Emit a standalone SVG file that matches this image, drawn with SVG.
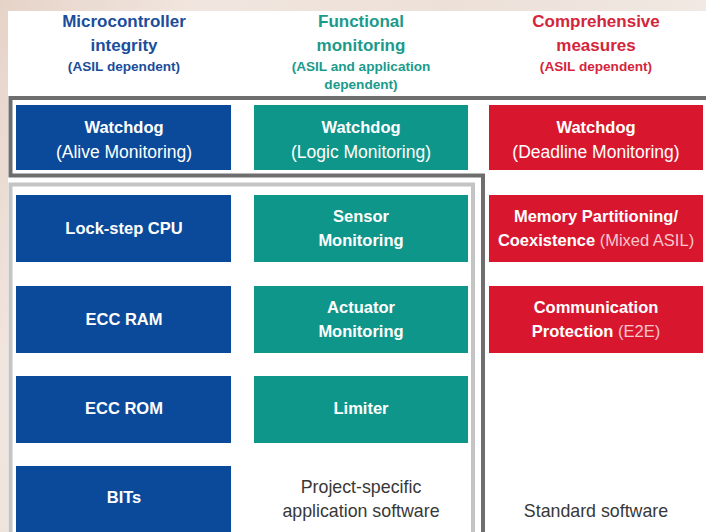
<svg xmlns="http://www.w3.org/2000/svg" width="706" height="532" viewBox="0 0 706 532">
  <defs>
    <linearGradient id="marble" x1="0" y1="0" x2="1" y2="0.4">
      <stop offset="0" stop-color="#e6d3c8"/>
      <stop offset="0.25" stop-color="#f1e6df"/>
      <stop offset="0.55" stop-color="#ece0d8"/>
      <stop offset="1" stop-color="#f3ece7"/>
    </linearGradient>
    <style>
      .b { font-family: "Liberation Sans", Arial, sans-serif; font-weight: bold; font-size: 16.5px; fill: #ffffff; text-anchor: middle; }
      .r { font-family: "Liberation Sans", Arial, sans-serif; font-size: 17.5px; fill: #ffffff; text-anchor: middle; }
      .h { font-family: "Liberation Sans", Arial, sans-serif; font-weight: bold; font-size: 17px; text-anchor: middle; }
      .hs { font-family: "Liberation Sans", Arial, sans-serif; font-weight: bold; font-size: 13.6px; text-anchor: middle; }
      .sw { font-family: "Liberation Sans", Arial, sans-serif; font-size: 17.8px; fill: #383838; text-anchor: middle; }
      .blue { fill: #0b4a9a; }
      .teal { fill: #0f968a; }
      .red { fill: #d8172f; }
      .tint { fill: #f7c6cc; font-weight: normal; }
      .dark { fill: none; stroke: #6e6e6e; stroke-width: 4; }
      .light { fill: none; stroke: #c4c4c4; stroke-width: 4; }
    </style>
  </defs>

  <!-- backdrop and white sheet -->
  <rect x="0" y="0" width="706" height="532" fill="url(#marble)"/>
  <rect x="8" y="11" width="698" height="521" fill="#ffffff"/>

  <!-- column headings -->
  <g id="head-mcu">
    <text class="h" x="124" y="27" fill="#1b4d9b">Microcontroller</text>
    <text class="h" x="124" y="51" fill="#1b4d9b">integrity</text>
    <text class="hs" x="124" y="71" fill="#1b4d9b">(ASIL dependent)</text>
  </g>
  <g id="head-func">
    <text class="h" x="361" y="27" fill="#1a9a8b">Functional</text>
    <text class="h" x="361" y="51" fill="#1a9a8b">monitoring</text>
    <text class="hs" x="361" y="71" fill="#1a9a8b">(ASIL and application</text>
    <text class="hs" x="361" y="89" fill="#1a9a8b">dependent)</text>
  </g>
  <g id="head-comp">
    <text class="h" x="596" y="27" fill="#d4253b">Comprehensive</text>
    <text class="h" x="596" y="51" fill="#d4253b">measures</text>
    <text class="hs" x="596" y="71" fill="#d4253b">(ASIL dependent)</text>
  </g>

  <!-- grouping frames -->
  <g id="frames">
    <path class="light" d="M10.5,532 V184.5 H473 V532"/>
    <path class="dark" d="M706,98 H10.5 V175.5 H483 V532"/>
  </g>

  <!-- watchdog row -->
  <g id="wd-alive">
    <rect class="blue" x="16" y="105" width="215" height="65"/>
    <text class="b" x="124" y="133">Watchdog</text>
    <text class="r" x="124" y="158">(Alive Monitoring)</text>
  </g>
  <g id="wd-logic">
    <rect class="teal" x="254" y="105" width="214" height="65"/>
    <text class="b" x="361" y="133">Watchdog</text>
    <text class="r" x="361" y="158">(Logic Monitoring)</text>
  </g>
  <g id="wd-deadline">
    <rect class="red" x="489" y="105" width="214" height="65"/>
    <text class="b" x="596" y="133">Watchdog</text>
    <text class="r" x="596" y="158">(Deadline Monitoring)</text>
  </g>

  <!-- microcontroller integrity column -->
  <g id="lockstep">
    <rect class="blue" x="16" y="195" width="215" height="67"/>
    <text class="b" x="124" y="234">Lock-step CPU</text>
  </g>
  <g id="ecc-ram">
    <rect class="blue" x="16" y="286" width="215" height="67"/>
    <text class="b" x="124" y="325">ECC RAM</text>
  </g>
  <g id="ecc-rom">
    <rect class="blue" x="16" y="376" width="215" height="67"/>
    <text class="b" x="124" y="414">ECC ROM</text>
  </g>
  <g id="bits">
    <rect class="blue" x="16" y="466" width="215" height="70"/>
    <text class="b" x="124" y="503">BITs</text>
  </g>

  <!-- functional monitoring column -->
  <g id="sensor">
    <rect class="teal" x="254" y="195" width="214" height="67"/>
    <text class="b" x="361" y="222">Sensor</text>
    <text class="b" x="361" y="246">Monitoring</text>
  </g>
  <g id="actuator">
    <rect class="teal" x="254" y="286" width="214" height="67"/>
    <text class="b" x="361" y="313">Actuator</text>
    <text class="b" x="361" y="337">Monitoring</text>
  </g>
  <g id="limiter">
    <rect class="teal" x="254" y="376" width="214" height="67"/>
    <text class="b" x="361" y="414">Limiter</text>
  </g>
  <g id="app-sw">
    <text class="sw" x="361" y="493">Project-specific</text>
    <text class="sw" x="361" y="517">application software</text>
  </g>

  <!-- comprehensive measures column -->
  <g id="mem-part">
    <rect class="red" x="489" y="195" width="214" height="67"/>
    <text class="b" x="596" y="222">Memory Partitioning/</text>
    <text class="b" x="596" y="246">Coexistence <tspan class="tint">(Mixed ASIL)</tspan></text>
  </g>
  <g id="comm-prot">
    <rect class="red" x="489" y="286" width="214" height="67"/>
    <text class="b" x="596" y="313">Communication</text>
    <text class="b" x="596" y="337">Protection <tspan class="tint">(E2E)</tspan></text>
  </g>
  <g id="std-sw">
    <text class="sw" x="596" y="517">Standard software</text>
  </g>
</svg>
